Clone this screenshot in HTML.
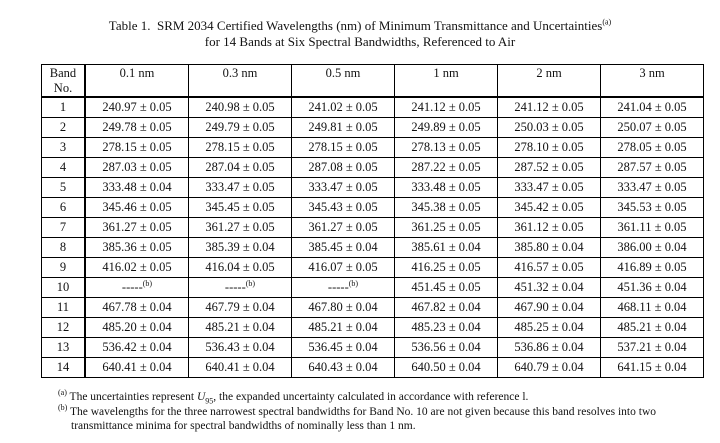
<!DOCTYPE html><html><head><style>
body{margin:0;width:720px;height:443px;background:#fff;font-family:"Liberation Serif",serif;color:#111;position:relative;overflow:hidden}
.t{position:absolute;left:0;width:720px;text-align:center;font-size:13px}
table{position:absolute;left:41px;top:64px;border-collapse:collapse;font-size:12.5px}
td{border:1px solid #000;text-align:center;padding:0;height:19px;line-height:19px}
tr.h td{height:30px;vertical-align:top;line-height:15px;padding-top:1px;border-bottom:2px solid #000}
td.b{width:42px;border-right:2px solid #000}
td.c{width:102px}
sup{font-size:8px;line-height:0}
.f{position:absolute;left:58px;font-size:11.5px;line-height:14px}
</style></head><body>
<div class="t" style="top:18px">Table 1.&nbsp; SRM 2034 Certified Wavelengths (nm) of Minimum Transmittance and Uncertainties<sup>(a)</sup></div>
<div class="t" style="top:34px">for 14 Bands at Six Spectral Bandwidths, Referenced to Air</div>
<table>
<tr class="h"><td class="b">Band<br>No.</td><td class="c">0.1 nm</td><td class="c">0.3 nm</td><td class="c">0.5 nm</td><td class="c">1 nm</td><td class="c">2 nm</td><td class="c">3 nm</td></tr>
<tr><td class="b">1</td><td>240.97 ± 0.05</td><td>240.98 ± 0.05</td><td>241.02 ± 0.05</td><td>241.12 ± 0.05</td><td>241.12 ± 0.05</td><td>241.04 ± 0.05</td></tr>
<tr><td class="b">2</td><td>249.78 ± 0.05</td><td>249.79 ± 0.05</td><td>249.81 ± 0.05</td><td>249.89 ± 0.05</td><td>250.03 ± 0.05</td><td>250.07 ± 0.05</td></tr>
<tr><td class="b">3</td><td>278.15 ± 0.05</td><td>278.15 ± 0.05</td><td>278.15 ± 0.05</td><td>278.13 ± 0.05</td><td>278.10 ± 0.05</td><td>278.05 ± 0.05</td></tr>
<tr><td class="b">4</td><td>287.03 ± 0.05</td><td>287.04 ± 0.05</td><td>287.08 ± 0.05</td><td>287.22 ± 0.05</td><td>287.52 ± 0.05</td><td>287.57 ± 0.05</td></tr>
<tr><td class="b">5</td><td>333.48 ± 0.04</td><td>333.47 ± 0.05</td><td>333.47 ± 0.05</td><td>333.48 ± 0.05</td><td>333.47 ± 0.05</td><td>333.47 ± 0.05</td></tr>
<tr><td class="b">6</td><td>345.46 ± 0.05</td><td>345.45 ± 0.05</td><td>345.43 ± 0.05</td><td>345.38 ± 0.05</td><td>345.42 ± 0.05</td><td>345.53 ± 0.05</td></tr>
<tr><td class="b">7</td><td>361.27 ± 0.05</td><td>361.27 ± 0.05</td><td>361.27 ± 0.05</td><td>361.25 ± 0.05</td><td>361.12 ± 0.05</td><td>361.11 ± 0.05</td></tr>
<tr><td class="b">8</td><td>385.36 ± 0.05</td><td>385.39 ± 0.04</td><td>385.45 ± 0.04</td><td>385.61 ± 0.04</td><td>385.80 ± 0.04</td><td>386.00 ± 0.04</td></tr>
<tr><td class="b">9</td><td>416.02 ± 0.05</td><td>416.04 ± 0.05</td><td>416.07 ± 0.05</td><td>416.25 ± 0.05</td><td>416.57 ± 0.05</td><td>416.89 ± 0.05</td></tr>
<tr><td class="b">10</td><td>-----<sup>(b)</sup></td><td>-----<sup>(b)</sup></td><td>-----<sup>(b)</sup></td><td>451.45 ± 0.05</td><td>451.32 ± 0.04</td><td>451.36 ± 0.04</td></tr>
<tr><td class="b">11</td><td>467.78 ± 0.04</td><td>467.79 ± 0.04</td><td>467.80 ± 0.04</td><td>467.82 ± 0.04</td><td>467.90 ± 0.04</td><td>468.11 ± 0.04</td></tr>
<tr><td class="b">12</td><td>485.20 ± 0.04</td><td>485.21 ± 0.04</td><td>485.21 ± 0.04</td><td>485.23 ± 0.04</td><td>485.25 ± 0.04</td><td>485.21 ± 0.04</td></tr>
<tr><td class="b">13</td><td>536.42 ± 0.04</td><td>536.43 ± 0.04</td><td>536.45 ± 0.04</td><td>536.56 ± 0.04</td><td>536.86 ± 0.04</td><td>537.21 ± 0.04</td></tr>
<tr><td class="b">14</td><td>640.41 ± 0.04</td><td>640.41 ± 0.04</td><td>640.43 ± 0.04</td><td>640.50 ± 0.04</td><td>640.79 ± 0.04</td><td>641.15 ± 0.04</td></tr>
</table>
<div class="f" style="top:390px"><sup>(a)</sup> The uncertainties represent <i>U</i><sub style="font-size:8px">95</sub>, the expanded uncertainty calculated in accordance with reference l.</div>
<div class="f" style="top:405px"><sup>(b)</sup> The wavelengths for the three narrowest spectral bandwidths for Band No. 10 are not given because this band resolves into two</div>
<div class="f" style="top:419px;left:71px">transmittance minima for spectral bandwidths of nominally less than 1 nm.</div>
</body></html>
